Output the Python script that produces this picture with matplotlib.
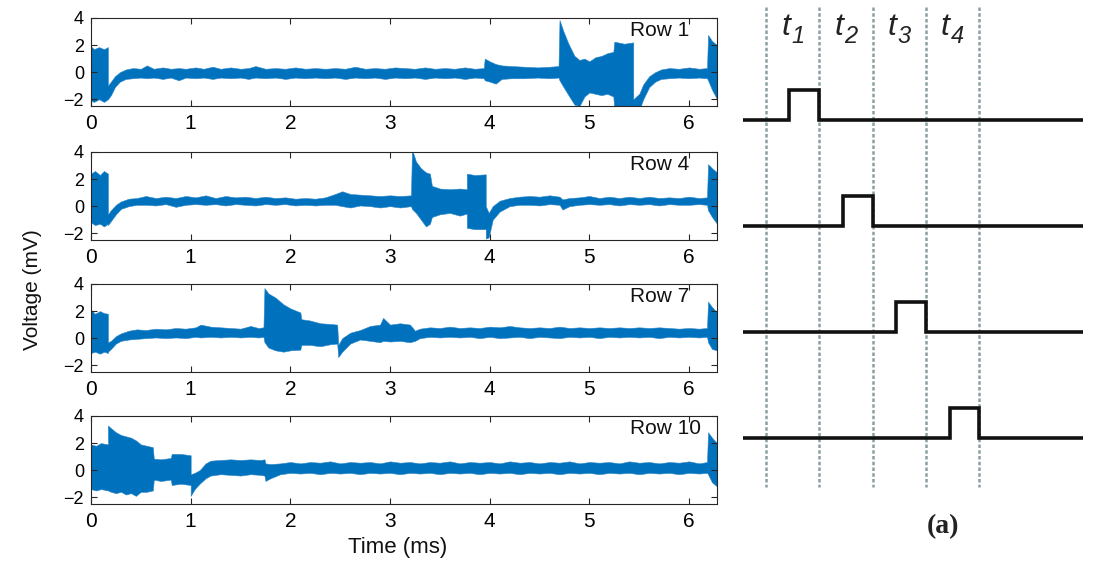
import matplotlib
matplotlib.use("Agg")
import matplotlib.pyplot as plt
import numpy as np

plt.rcParams['font.family'] = ['Liberation Sans', 'DejaVu Sans']

# ---------------- data: voltage envelopes (upper / lower) ----------------
row_labels = ["Row 1", "Row 4", "Row 7", "Row 10"]

row1_t = [0.00, 0.03, 0.08, 0.13, 0.17, 0.17, 0.20, 0.24, 0.29, 0.35, 0.42, 0.50, 0.56, 0.63, 0.72, 0.80, 0.88, 0.95,
          1.05, 1.13, 1.22, 1.30, 1.40, 1.50, 1.58, 1.65, 1.75, 1.85, 1.95, 2.05, 2.15, 2.25, 2.35, 2.45, 2.55, 2.65,
          2.75, 2.85, 2.95, 3.05, 3.15, 3.25, 3.35, 3.45, 3.55, 3.65, 3.75, 3.85, 3.94, 3.95, 4.00, 4.06, 4.12, 4.22,
          4.35, 4.48, 4.60, 4.69, 4.70, 4.74, 4.79, 4.85, 4.90, 4.95, 5.00, 5.06, 5.12, 5.18, 5.24, 5.25, 5.35, 5.44,
          5.44, 5.50, 5.54, 5.60, 5.66, 5.72, 5.80, 5.90, 6.00, 6.10, 6.18, 6.19, 6.23, 6.28]
row1_hi = [1.9, 1.7, 1.85, 1.7, 1.85, -1.0, -0.7, -0.3, 0.0, 0.2, 0.3, 0.25, 0.5, 0.25, 0.35, 0.25, 0.3, 0.25,
           0.35, 0.25, 0.4, 0.25, 0.35, 0.25, 0.3, 0.45, 0.25, 0.3, 0.25, 0.35, 0.25, 0.3, 0.25, 0.3, 0.25, 0.4,
           0.25, 0.3, 0.25, 0.35, 0.3, 0.25, 0.35, 0.25, 0.3, 0.25, 0.35, 0.25, 0.3, 1.0, 0.8, 0.6, 0.5, 0.45,
           0.4, 0.35, 0.4, 0.45, 3.85, 3.0, 2.1, 1.2, 0.9, 1.0, 0.8, 1.1, 1.2, 1.4, 1.5, 2.25, 2.1, 2.2,
           -2.0, -1.6, -0.9, -0.3, 0.0, 0.2, 0.3, 0.25, 0.35, 0.25, 0.3, 2.75, 2.3, 2.0]
row1_lo = [-2.1, -2.2, -2.0, -2.2, -2.0, -2.0, -1.7, -1.1, -0.7, -0.5, -0.45, -0.4, -0.45, -0.4, -0.5, -0.4, -0.6, -0.4,
           -0.45, -0.4, -0.5, -0.4, -0.45, -0.4, -0.5, -0.4, -0.45, -0.4, -0.5, -0.4, -0.45, -0.4, -0.45, -0.4, -0.5, -0.4,
           -0.45, -0.4, -0.5, -0.4, -0.45, -0.4, -0.5, -0.4, -0.45, -0.4, -0.5, -0.4, -0.45, -0.6, -0.7, -0.85, -0.5, -0.45,
           -0.45, -0.4, -0.45, -0.4, -0.6, -1.1, -1.7, -2.4, -2.5, -1.8, -1.5, -1.6, -1.7, -1.6, -1.8, -2.8, -2.8, -2.8,
           -2.8, -2.8, -2.0, -1.1, -0.7, -0.5, -0.45, -0.4, -0.45, -0.4, -0.45, -0.6, -1.3, -2.0]

row4_t = [0.00, 0.04, 0.09, 0.13, 0.17, 0.17, 0.20, 0.25, 0.30, 0.38, 0.46, 0.55, 0.65, 0.75, 0.85, 0.95, 1.05, 1.15,
          1.25, 1.35, 1.45, 1.55, 1.65, 1.75, 1.85, 1.95, 2.05, 2.15, 2.25, 2.35, 2.45, 2.52, 2.60, 2.70, 2.80, 2.90,
          3.00, 3.10, 3.21, 3.22, 3.26, 3.31, 3.36, 3.40, 3.42, 3.50, 3.60, 3.70, 3.77, 3.77, 3.85, 3.96, 3.96, 3.99,
          4.03, 4.10, 4.20, 4.30, 4.40, 4.50, 4.60, 4.70, 4.73, 4.80, 4.90, 5.00, 5.10, 5.20, 5.30, 5.40, 5.50, 5.60,
          5.70, 5.80, 5.90, 6.00, 6.10, 6.18, 6.19, 6.23, 6.28]
row4_hi = [2.4, 2.6, 2.3, 2.6, 2.4, -0.6, -0.3, 0.1, 0.35, 0.55, 0.6, 0.75, 0.6, 0.7, 0.6, 0.75, 0.65, 0.8,
           0.6, 0.75, 0.65, 0.7, 0.6, 0.7, 0.6, 0.65, 0.55, 0.6, 0.55, 0.65, 0.9, 1.1, 0.9, 0.85, 0.8, 0.75,
           0.8, 0.75, 0.8, 4.2, 3.3, 2.8, 2.5, 2.4, 1.5, 1.3, 1.25, 1.3, 1.25, 2.4, 2.3, 2.35, 0.0, -0.5,
           0.0, 0.4, 0.6, 0.7, 0.75, 0.7, 0.8, 0.7, 0.5, 0.6, 0.65, 0.75, 0.6, 0.7, 0.6, 0.7, 0.6, 0.7,
           0.6, 0.65, 0.6, 0.7, 0.6, 0.65, 3.1, 2.8, 2.5]
row4_lo = [-1.2, -1.4, -1.3, -1.5, -1.3, -1.4, -1.1, -0.6, -0.2, 0.0, 0.1, 0.1, 0.05, 0.15, -0.05, 0.1, 0.15, 0.1,
           0.15, 0.05, 0.15, 0.1, 0.05, 0.15, 0.1, 0.15, 0.05, 0.1, 0.05, 0.1, 0.1, 0.0, -0.1, 0.05, 0.0, -0.1,
           0.0, -0.1, 0.0, -0.2, -0.5, -1.0, -1.5, -1.3, -0.8, -0.6, -0.5, -0.7, -0.55, -1.6, -1.7, -1.7, -2.4, -2.3,
           -1.0, -0.4, 0.0, 0.1, 0.1, 0.05, 0.15, 0.1, -0.25, 0.0, 0.1, 0.15, 0.1, 0.15, 0.05, 0.15, 0.1, 0.15,
           0.05, 0.15, 0.1, 0.1, 0.15, 0.1, -0.3, -0.8, -1.3]

row7_t = [0.00, 0.04, 0.09, 0.13, 0.17, 0.17, 0.20, 0.25, 0.30, 0.38, 0.46, 0.55, 0.65, 0.75, 0.85, 0.95, 1.05, 1.10,
          1.20, 1.30, 1.40, 1.50, 1.60, 1.68, 1.73, 1.74, 1.78, 1.85, 1.93, 2.00, 2.10, 2.11, 2.20, 2.30, 2.40, 2.47,
          2.48, 2.52, 2.60, 2.70, 2.80, 2.90, 2.93, 3.00, 3.10, 3.20, 3.25, 3.30, 3.40, 3.50, 3.60, 3.70, 3.80, 3.90,
          4.00, 4.10, 4.20, 4.30, 4.40, 4.50, 4.60, 4.70, 4.80, 4.90, 5.00, 5.10, 5.20, 5.30, 5.40, 5.50, 5.60, 5.70,
          5.80, 5.90, 6.00, 6.10, 6.18, 6.19, 6.23, 6.28]
row7_hi = [2.1, 1.8, 2.0, 1.85, 1.8, -0.3, -0.2, 0.15, 0.35, 0.55, 0.65, 0.6, 0.7, 0.65, 0.75, 0.7, 0.8, 1.0,
           0.85, 0.8, 0.75, 0.7, 0.9, 0.75, 0.8, 3.7, 3.3, 3.0, 2.5, 2.2, 1.9, 1.4, 1.3, 1.1, 1.05, 1.0,
           -0.5, 0.0, 0.4, 0.6, 0.9, 1.0, 1.5, 1.0, 1.1, 1.0, 0.55, 0.7, 0.8, 0.75, 0.85, 0.75, 0.8, 0.75,
           0.85, 0.8, 0.9, 0.8, 0.75, 0.8, 0.75, 0.85, 0.75, 0.8, 0.75, 0.8, 0.75, 0.8, 0.75, 0.8, 0.75, 0.8,
           0.75, 0.7, 0.75, 0.7, 0.75, 2.7, 2.3, 1.9]
row7_lo = [-1.1, -1.0, -1.15, -1.0, -1.1, -1.0, -0.8, -0.4, -0.2, -0.1, -0.05, 0.0, 0.05, 0.0, 0.05, 0.0, 0.1, 0.05,
           0.1, 0.05, 0.1, 0.05, 0.1, 0.05, 0.1, -0.3, -0.7, -0.9, -1.0, -0.9, -0.85, -0.5, -0.5, -0.6, -0.45, -0.4,
           -1.4, -1.0, -0.4, -0.1, -0.2, -0.3, -0.2, -0.25, -0.2, -0.3, -0.2, 0.0, 0.1, 0.05, 0.1, 0.05, 0.1, 0.0,
           0.1, 0.0, 0.05, 0.1, 0.0, 0.1, 0.05, 0.0, 0.1, 0.05, 0.1, 0.0, 0.1, 0.05, 0.1, 0.05, 0.1, 0.0,
           0.1, 0.05, 0.1, 0.05, 0.1, -0.3, -0.8, -0.9]

row10_t = [0.00, 0.05, 0.10, 0.17, 0.17, 0.20, 0.25, 0.30, 0.35, 0.40, 0.45, 0.50, 0.56, 0.62, 0.63, 0.70, 0.80, 0.81,
           0.90, 1.00, 1.00, 1.04, 1.09, 1.15, 1.20, 1.30, 1.40, 1.50, 1.60, 1.70, 1.74, 1.75, 1.80, 1.90, 2.00, 2.10,
           2.20, 2.30, 2.40, 2.50, 2.60, 2.70, 2.80, 2.90, 3.00, 3.10, 3.20, 3.30, 3.40, 3.50, 3.60, 3.70, 3.80, 3.90,
           4.00, 4.10, 4.20, 4.30, 4.40, 4.50, 4.60, 4.70, 4.80, 4.90, 5.00, 5.10, 5.20, 5.30, 5.40, 5.50, 5.60, 5.70,
           5.80, 5.90, 6.00, 6.10, 6.18, 6.19, 6.23, 6.28]
row10_hi = [1.9, 1.8, 2.0, 1.9, 3.3, 3.1, 2.8, 2.6, 2.5, 2.4, 2.2, 1.9, 1.8, 1.7, 0.85, 0.8, 0.9, 1.2,
            1.2, 1.1, -0.3, -0.2, 0.0, 0.5, 0.7, 0.75, 0.8, 0.75, 0.8, 0.75, 0.8, 0.5, 0.45, 0.5, 0.6, 0.5,
            0.6, 0.55, 0.65, 0.5, 0.6, 0.55, 0.6, 0.5, 0.65, 0.55, 0.6, 0.5, 0.6, 0.55, 0.65, 0.5, 0.6, 0.55,
            0.6, 0.5, 0.65, 0.55, 0.6, 0.5, 0.6, 0.55, 0.65, 0.5, 0.6, 0.55, 0.6, 0.5, 0.65, 0.55, 0.6, 0.5,
            0.6, 0.55, 0.65, 0.5, 0.6, 2.8, 2.4, 2.0]
row10_lo = [-1.4, -1.5, -1.4, -1.5, -1.5, -1.6, -1.7, -1.6, -1.8, -1.7, -1.9, -1.6, -1.6, -1.5, -0.7, -0.8, -0.7, -1.1,
            -1.0, -1.1, -1.9, -1.4, -1.0, -0.6, -0.4, -0.3, -0.35, -0.4, -0.3, -0.35, -0.4, -0.8, -0.6, -0.3, -0.2, -0.25,
            -0.2, -0.3, -0.2, -0.25, -0.2, -0.3, -0.2, -0.25, -0.2, -0.3, -0.2, -0.25, -0.2, -0.3, -0.2, -0.25, -0.2, -0.3,
            -0.2, -0.25, -0.2, -0.3, -0.2, -0.25, -0.2, -0.3, -0.2, -0.25, -0.2, -0.3, -0.2, -0.25, -0.2, -0.3, -0.2, -0.25,
            -0.2, -0.3, -0.2, -0.25, -0.2, -0.3, -0.9, -1.2]

x_ticks = [0, 1, 2, 3, 4, 5, 6]
y_ticks = [-2, 0, 2, 4]

# ---------------- data: timing diagram ----------------
slot_edges = [0, 1, 2, 3, 4]
pulse_start = [0.44, 1.45, 2.45, 3.45]
pulse_end = [1.0, 2.0, 3.0, 4.0]
pulse_height = 0.28
slot_names = ['t', 't', 't', 't']
slot_subs = ['1', '2', '3', '4']

# ---------------- figure ----------------
W, H = 1094, 564
fig = plt.figure(figsize=(W / 100, H / 100), dpi=100)
blue = '#0072BD'
ink = '#262626'

rows = [(row1_t, row1_hi, row1_lo), (row4_t, row4_hi, row4_lo),
        (row7_t, row7_hi, row7_lo), (row10_t, row10_hi, row10_lo)]
tops = [18, 152, 284, 416]
ax_h = 88
for (t, hi, lo), lab, top in zip(rows, row_labels, tops):
    ax = fig.add_axes([91 / W, 1 - (top + ax_h) / H, 626 / W, ax_h / H])
    ax.fill_between(t, lo, hi, color=blue, lw=0.4, edgecolor='#2a86c8')
    ax.set_xlim(0, 6.28)
    ax.set_ylim(-2.5, 4)
    ax.set_xticks(x_ticks)
    ax.set_yticks(y_ticks)
    ax.tick_params(direction='in', length=4, width=0.8, top=True, right=True, color=ink)
    ax.tick_params(axis='x', labelsize=15, pad=6)
    ax.tick_params(axis='y', labelsize=13, pad=5)
    for s in ax.spines.values():
        s.set_color(ink)
        s.set_linewidth(0.8)
    ax.text(0.861, 0.86, lab, transform=ax.transAxes, ha='left', va='center', fontsize=15, color='#111111')

fig.text(33 / W, 1 - 290 / H, 'Voltage (mV)', rotation=90, ha='center', va='center', fontsize=15, color='#111111')
fig.text(398 / W, 1 - 548 / H, 'Time (ms)', ha='center', va='center', fontsize=16, color='#111111')

# ---------------- timing diagram ----------------
axr = fig.add_axes([730 / W, 0, 364 / W, 1])
axr.set_xlim(-36 / 53.25, 328 / 53.25)
axr.set_ylim(-(H - 120) / 106, 120 / 106)
axr.axis('off')
for e in slot_edges:
    axr.plot([e, e], [1.066, -3.462], color='#8aa0a3', lw=1.8, ls=(0, (1.4, 0.9)))
for k, (ps, pe) in enumerate(zip(pulse_start, pulse_end)):
    base = -k
    xs = [-0.44, ps, ps, pe, pe, 5.95]
    ys = [base, base, base + pulse_height, base + pulse_height, base, base]
    axr.plot(xs, ys, color='#111111', lw=2.6, solid_joinstyle='miter', solid_capstyle='butt')
for e, nm, sb in zip(slot_edges[:-1], slot_names, slot_subs):
    axr.text(e + 0.45, 0.80, nm, ha='right', va='baseline', fontsize=23, style='italic', color='#222222')
    axr.text(e + 0.47, 0.73, sb, ha='left', va='baseline', fontsize=17, style='italic', color='#222222')
axr.text(3.32, -3.84, '(a)', ha='center', va='center', fontsize=20, fontweight='bold',
         family='Liberation Serif', color='#222222')

fig.savefig('out.png', dpi=100)
